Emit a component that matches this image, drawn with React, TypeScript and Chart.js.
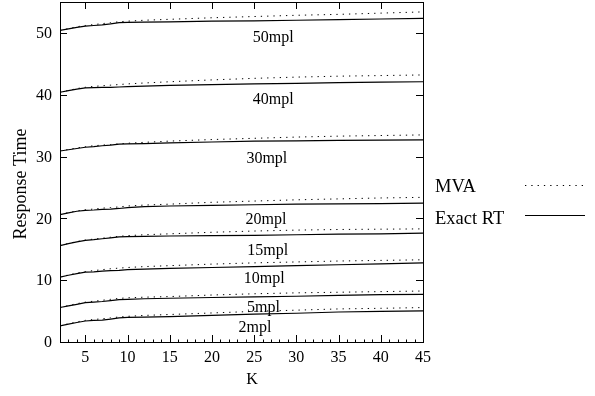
import React, { useEffect, useRef } from "react";
import { Chart, registerables } from "chart.js";

Chart.register(...registerables);

const kValues = [2, 3, 4, 5, 6, 7, 8, 9, 10, 12, 15, 20, 25, 30, 35, 40, 45];

const exact2 = [2.6, 2.9, 3.15, 3.4, 3.5, 3.55, 3.7, 3.9, 3.97, 4.03, 4.1, 4.3, 4.5, 4.65, 4.85, 4.95, 5.03];
const mva2 = [2.6, 2.95, 3.25, 3.5, 3.65, 3.75, 3.9, 4.05, 4.15, 4.3, 4.45, 4.7, 4.95, 5.15, 5.35, 5.45, 5.57];
const exact5 = [5.58, 5.85, 6.1, 6.38, 6.45, 6.55, 6.7, 6.85, 6.9, 7.0, 7.08, 7.2, 7.3, 7.4, 7.55, 7.65, 7.7];
const mva5 = [5.58, 5.9, 6.2, 6.45, 6.6, 6.75, 6.9, 7.05, 7.15, 7.25, 7.35, 7.6, 7.8, 7.95, 8.05, 8.15, 8.25];
const exact10 = [10.5, 10.8, 11.05, 11.3, 11.35, 11.45, 11.55, 11.6, 11.7, 11.8, 11.9, 12.05, 12.2, 12.35, 12.5, 12.65, 12.8];
const mva10 = [10.5, 10.85, 11.15, 11.4, 11.55, 11.7, 11.85, 11.95, 12.05, 12.2, 12.35, 12.6, 12.8, 12.95, 13.1, 13.2, 13.3];
const exact15 = [15.6, 15.9, 16.2, 16.45, 16.55, 16.7, 16.85, 17.0, 17.05, 17.1, 17.15, 17.2, 17.25, 17.35, 17.45, 17.5, 17.6];
const mva15 = [15.6, 15.95, 16.25, 16.5, 16.65, 16.8, 16.95, 17.1, 17.2, 17.35, 17.5, 17.75, 17.95, 18.1, 18.2, 18.25, 18.3];
const exact20 = [20.6, 20.9, 21.15, 21.3, 21.35, 21.45, 21.5, 21.6, 21.75, 21.9, 22.0, 22.1, 22.2, 22.3, 22.35, 22.4, 22.45];
const mva20 = [20.6, 20.95, 21.2, 21.4, 21.5, 21.65, 21.75, 21.85, 22.0, 22.15, 22.3, 22.6, 22.8, 23.0, 23.15, 23.3, 23.4];
const exact30 = [30.9, 31.1, 31.3, 31.5, 31.6, 31.75, 31.85, 32.0, 32.05, 32.1, 32.2, 32.35, 32.5, 32.55, 32.6, 32.65, 32.7];
const mva30 = [30.9, 31.15, 31.4, 31.6, 31.75, 31.85, 31.95, 32.05, 32.15, 32.3, 32.5, 32.75, 32.95, 33.15, 33.3, 33.4, 33.5];
const exact40 = [40.4, 40.65, 40.9, 41.1, 41.15, 41.2, 41.2, 41.25, 41.3, 41.4, 41.5, 41.65, 41.75, 41.85, 41.95, 42.05, 42.1];
const mva40 = [40.4, 40.7, 41.0, 41.2, 41.35, 41.45, 41.55, 41.65, 41.75, 41.9, 42.1, 42.4, 42.65, 42.85, 43.0, 43.1, 43.2];
const exact50 = [50.4, 50.65, 50.9, 51.1, 51.2, 51.3, 51.45, 51.65, 51.7, 51.75, 51.8, 51.9, 51.95, 52.05, 52.15, 52.25, 52.35];
const mva50 = [50.4, 50.7, 51.0, 51.2, 51.35, 51.5, 51.65, 51.8, 51.9, 52.05, 52.2, 52.45, 52.65, 52.85, 53.0, 53.2, 53.4];

const exactSeries = [exact2, exact5, exact10, exact15, exact20, exact30, exact40, exact50];
const mvaSeries = [mva2, mva5, mva10, mva15, mva20, mva30, mva40, mva50];

const curveLabels = ["2mpl", "5mpl", "10mpl", "15mpl", "20mpl", "30mpl", "40mpl", "50mpl"];
const labelK = [25.1, 26.1, 26.2, 26.6, 26.4, 26.5, 27.25, 27.25];
const labelY = [2.3, 5.5, 10.3, 14.7, 19.8, 29.6, 39.2, 49.2];

const xTicks = [5, 10, 15, 20, 25, 30, 35, 40, 45];
const yTicks = [0, 10, 20, 30, 40, 50];
const xMin = 2;
const xMax = 45;
const yMin = 0;
const yMax = 55;

const legendNames = ["MVA", "Exact RT"];
const xTitle = "K";
const yTitle = "Response Time";

const SERIF = '"Liberation Serif", "Times New Roman", serif';
const DOT = [1.3, 5];

const overlay = {
  id: "gnuplotOverlay",
  afterDraw(chart: any) {
    const { ctx, chartArea: a, scales } = chart;
    const xs = scales.x;
    const ys = scales.y;
    ctx.save();
    ctx.strokeStyle = "#000";
    ctx.fillStyle = "#000";
    ctx.lineWidth = 1;
    ctx.setLineDash([]);
    ctx.strokeRect(Math.round(a.left) + 0.5, Math.round(a.top) + 0.5, Math.round(a.right - a.left), Math.round(a.bottom - a.top));
    ctx.beginPath();
    for (const v of xTicks) {
      const px = Math.round(xs.getPixelForValue(v)) + 0.5;
      ctx.moveTo(px, a.bottom);
      ctx.lineTo(px, a.bottom - 7);
      ctx.moveTo(px, a.top);
      ctx.lineTo(px, a.top + 7);
    }
    for (let v = xMin; v <= xMax; v++) {
      const px = Math.round(xs.getPixelForValue(v)) + 0.5;
      ctx.moveTo(px, a.bottom);
      ctx.lineTo(px, a.bottom - 2.5);
    }
    for (const v of yTicks) {
      const py = Math.round(ys.getPixelForValue(v)) + 0.5;
      ctx.moveTo(a.left, py);
      ctx.lineTo(a.left + 7, py);
      ctx.moveTo(a.right, py);
      ctx.lineTo(a.right - 7, py);
    }
    ctx.stroke();

    ctx.font = `16px ${SERIF}`;
    ctx.textAlign = "center";
    ctx.textBaseline = "middle";
    for (const v of xTicks) {
      ctx.fillText(String(v), xs.getPixelForValue(v), a.bottom + 16);
    }
    ctx.textAlign = "right";
    for (const v of yTicks) {
      ctx.fillText(String(v), a.left - 8, ys.getPixelForValue(v) + 1);
    }

    ctx.textAlign = "center";
    ctx.font = `16px ${SERIF}`;
    ctx.fillText(xTitle, 252, a.bottom + 38);
    ctx.save();
    ctx.translate(21, 184);
    ctx.rotate(-Math.PI / 2);
    ctx.font = `18px ${SERIF}`;
    ctx.fillText(yTitle, 0, 0);
    ctx.restore();

    ctx.font = `16px ${SERIF}`;
    ctx.textAlign = "center";
    for (let i = 0; i < curveLabels.length; i++) {
      ctx.fillText(curveLabels[i], xs.getPixelForValue(labelK[i]), ys.getPixelForValue(labelY[i]));
    }

    ctx.font = `18.5px ${SERIF}`;
    ctx.textAlign = "left";
    ctx.fillText(legendNames[0], 435, 187);
    ctx.fillText(legendNames[1], 435, 219);
    ctx.beginPath();
    ctx.setLineDash(DOT);
    ctx.moveTo(525, 185.5);
    ctx.lineTo(584, 185.5);
    ctx.stroke();
    ctx.beginPath();
    ctx.setLineDash([]);
    ctx.lineWidth = 1.2;
    ctx.moveTo(525, 215.5);
    ctx.lineTo(585, 215.5);
    ctx.stroke();
    ctx.restore();
  },
};

export default function App() {
  const ref = useRef<HTMLCanvasElement | null>(null);
  useEffect(() => {
    if (!ref.current) return;
    const datasets: any[] = [];
    for (let i = 0; i < mvaSeries.length; i++) {
      datasets.push({
        label: `${legendNames[0]} ${curveLabels[i]}`,
        data: kValues.map((k, j) => ({ x: k, y: mvaSeries[i][j] })),
        borderColor: "#000",
        borderWidth: 1,
        borderDash: DOT,
        pointRadius: 0,
        tension: 0,
        fill: false,
      });
      datasets.push({
        label: `${legendNames[1]} ${curveLabels[i]}`,
        data: kValues.map((k, j) => ({ x: k, y: exactSeries[i][j] })),
        borderColor: "#000",
        borderWidth: 1.2,
        pointRadius: 0,
        tension: 0,
        fill: false,
      });
    }
    const chart = new Chart(ref.current, {
      type: "line",
      data: { datasets },
      options: {
        animation: false,
        responsive: false,
        devicePixelRatio: 1,
        layout: { padding: { left: 60, right: 172, top: 2, bottom: 54 } },
        plugins: { legend: { display: false }, tooltip: { enabled: false } },
        scales: {
          x: { type: "linear", min: xMin, max: xMax, display: false },
          y: { type: "linear", min: yMin, max: yMax, display: false },
        },
      },
      plugins: [overlay],
    });
    return () => chart.destroy();
  }, []);
  return (
    <div style={{ position: "absolute", left: 0, top: 0, width: 595, height: 396, background: "#fff" }}>
      <canvas ref={ref} width={595} height={396} />
    </div>
  );
}
